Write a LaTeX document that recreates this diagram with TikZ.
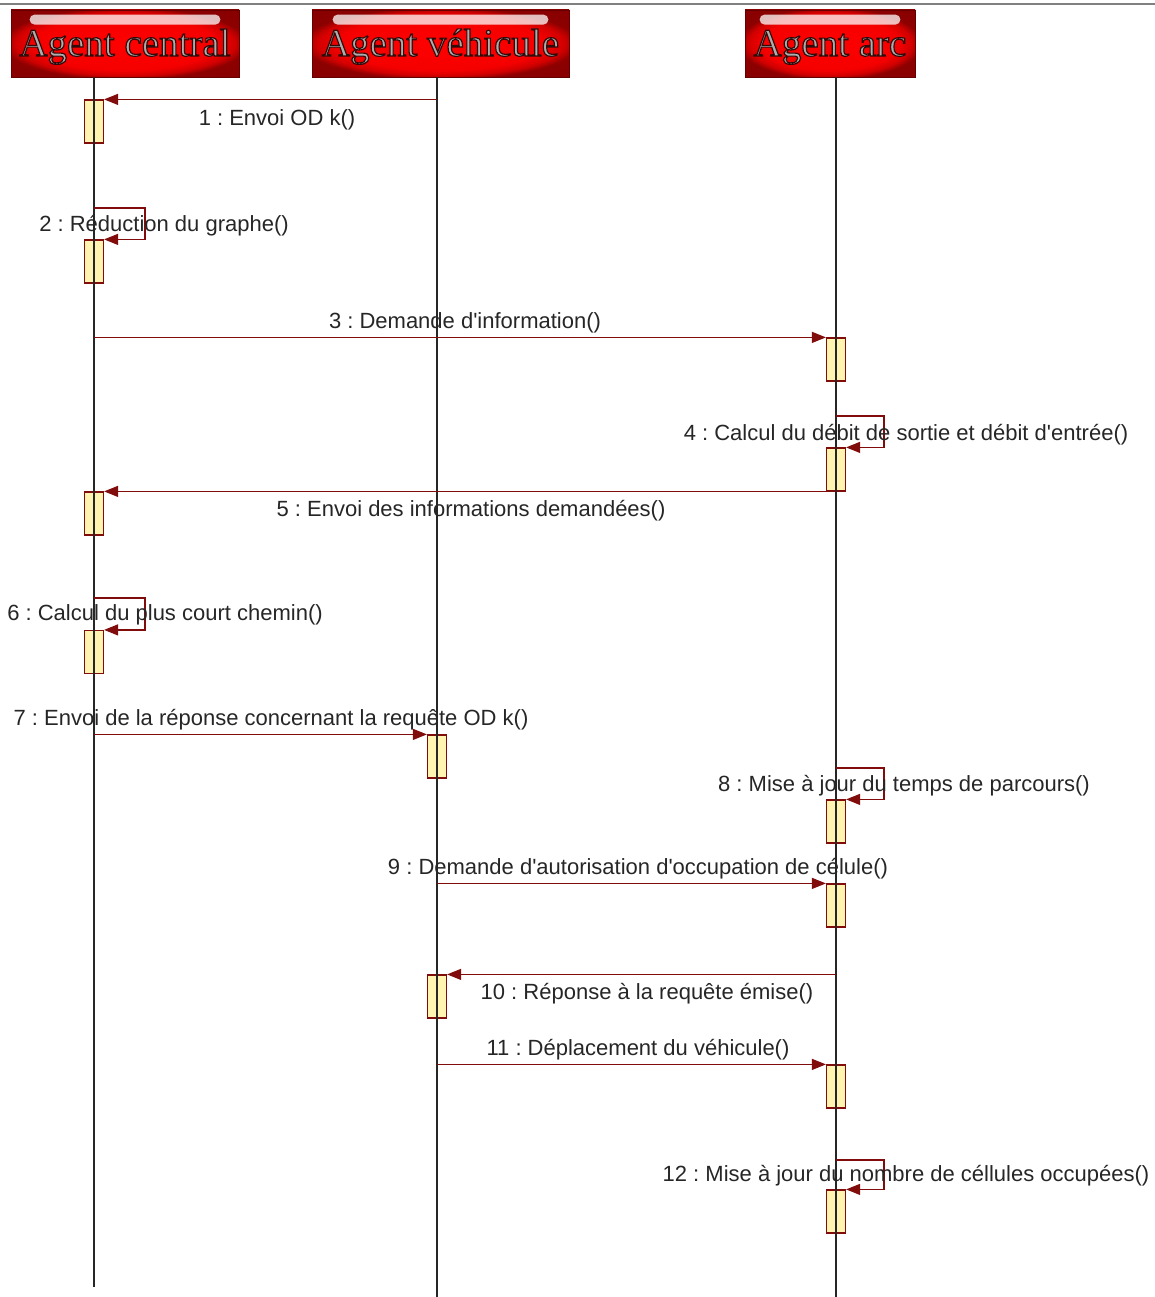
\documentclass[tikz,border=0pt]{standalone}
\usepackage{fontspec}
\setmainfont{Liberation Sans}
\newfontfamily\agentfont{Liberation Serif}[FakeBold=3]
\usetikzlibrary{shapes, positioning, arrows.meta, shadings}
\definecolor{msgred}{HTML}{800C0C}
\definecolor{actfill}{HTML}{FFF5B0}
\definecolor{labgray}{HTML}{262626}
\pgfdeclareradialshading{agentglow}{\pgfpoint{0bp}{0bp}}{%
  color(0bp)=(red); color(20bp)=(red!96!black); color(24bp)=(red!82!black);
  color(27bp)=(red!55!black); color(50bp)=(red!50!black)}
\newcommand{\agentname}[1]{\special{pdf:bcolor [0.68 0.68 0.68] [0.2 0.04 0.04]}#1\special{pdf:ecolor}}

\begin{document}
\frenchspacing
\begin{tikzpicture}[x=1pt, y=-1pt,
    agent/.style={rectangle, draw=red!40!black, line width=.8pt,
      shade, shading=agentglow, minimum height=67pt, text height=30pt, text depth=5pt,
      font=\agentfont\fontsize{39}{40}\selectfont},
    shine/.style={fill=white, opacity=.75, rounded corners=5pt},
    act/.style={rectangle, draw=msgred, fill=actfill, line width=1.2pt,
      minimum width=19pt, minimum height=43pt, inner sep=0pt},
    life/.style={draw=black!85, line width=1.3pt},
    msg/.style={draw=msgred, line width=1.2pt, -{Triangle[length=14pt, width=11pt]}},
    lbl/.style={font=\fontsize{22}{24}\selectfont, text=labgray, inner sep=0pt, yshift=-2pt}]
  \useasboundingbox (0,0) rectangle (1155,1297);
  \draw[gray, line width=1.5pt] (0,4) -- (1155,4);

  % agents
  \node[agent, minimum width=228pt] (hc) at (125,43.5) {\agentname{Agent central}};
  \node[agent, minimum width=257pt] (hv) at (440.5,43.5) {\agentname{Agent véhicule}};
  \node[agent, minimum width=170pt] (ha) at (830,43.5) {\agentname{Agent arc}};
  \fill[shine] ([xshift=19pt,yshift=-5pt]hc.north west) rectangle ([xshift=-19pt,yshift=-15pt]hc.north east);
  \fill[shine] ([xshift=21pt,yshift=-5pt]hv.north west) rectangle ([xshift=-21pt,yshift=-15pt]hv.north east);
  \fill[shine] ([xshift=15pt,yshift=-5pt]ha.north west) rectangle ([xshift=-15pt,yshift=-15pt]ha.north east);

  % lifelines
  \coordinate (tc) at (94,77);
  \coordinate (tv) at (437,77);
  \coordinate (ta) at (836,77);
  \coordinate (ec) at (94,1287);
  \coordinate (ev) at (437,1297);
  \coordinate (ea) at (836,1297);

  % activations
  \node[act] (a1) at (94,121.5) {};
  \node[act] (a2) at (94,261.5) {};
  \node[act] (a3) at (836,359.5) {};
  \node[act] (a4) at (836,469.5) {};
  \node[act] (a5) at (94,513.5) {};
  \node[act] (a6) at (94,652) {};
  \node[act] (a7) at (437,756.5) {};
  \node[act] (a8) at (836,821.5) {};
  \node[act] (a9) at (836,905.5) {};
  \node[act] (a10) at (437,996.5) {};
  \node[act] (a11) at (836,1086.5) {};
  \node[act] (a12) at (836,1211.5) {};

  \draw[life] (tc) -- (ec);
  \draw[life] (tv) -- (ev);
  \draw[life] (ta) -- (ea);

  % self calls start here
  \coordinate (s2) at (94,208);
  \coordinate (s4) at (836,416);
  \coordinate (s6) at (94,598);
  \coordinate (s8) at (836,768);
  \coordinate (s12) at (836,1160);

  % messages
  \draw[msg] (a1.north -| tv) -- (a1.north east);
  \draw[msg] (s2) -- ++(51,0) |- (a2.north east);
  \draw[msg] (a3.north -| tc) -- (a3.north west);
  \draw[msg] (s4) -- ++(48,0) |- (a4.north east);
  \draw[msg] (a5.north -| ta) -- (a5.north east);
  \draw[msg] (s6) -- ++(51,0) |- (a6.north east);
  \draw[msg] (a7.north -| tc) -- (a7.north west);
  \draw[msg] (s8) -- ++(48,0) |- (a8.north east);
  \draw[msg] (a9.north -| tv) -- (a9.north west);
  \draw[msg] (a10.north -| ta) -- (a10.north east);
  \draw[msg] (a11.north -| tv) -- (a11.north west);
  \draw[msg] (s12) -- ++(48,0) |- (a12.north east);

  % labels
  \node[lbl] (m1) at (277,118) {1 : Envoi OD k()};
  \node[lbl] (m2) at (164,224) {2 : Réduction du graphe()};
  \node[lbl] (m3) at (465,321) {3 : Demande d\textquotesingle information()};
  \node[lbl] (m4) at (906,433) {4 : Calcul du débit de sortie et débit d\textquotesingle entrée()};
  \node[lbl] (m5) at (471,509) {5 : Envoi des informations demandées()};
  \node[lbl] (m6) at (165,613) {6 : Calcul du plus court chemin()};
  \node[lbl] (m7) at (271,718) {7 : Envoi de la réponse concernant la requête OD k()};
  \node[lbl] (m8) at (904,784) {8 : Mise à jour du temps de parcours()};
  \node[lbl] (m9) at (638,867) {9 : Demande d\textquotesingle autorisation d\textquotesingle occupation de célule()};
  \node[lbl] (m10) at (647,992) {10 : Réponse à la requête émise()};
  \node[lbl] (m11) at (638,1048) {11 : Déplacement du véhicule()};
  \node[lbl] (m12) at (906,1174) {12 : Mise à jour du nombre de céllules occupées()};
\end{tikzpicture}
\end{document}
